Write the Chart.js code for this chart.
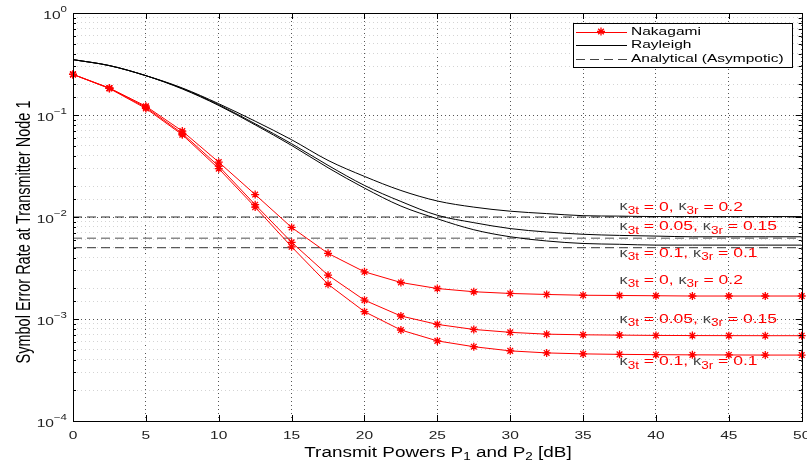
<!DOCTYPE html>
<html>
<head>
<meta charset="utf-8">
<script src="https://cdn.jsdelivr.net/npm/chart.js@4/dist/chart.umd.min.js"></script>
<style>
  html, body { margin: 0; padding: 0; background: #fff; }
  #wrap { width: 807px; height: 460px; }
</style>
</head>
<body>
<div id="wrap"><canvas id="serChart" width="807" height="460"></canvas></div>
<script>
// transmit power P1 = P2 in dB
const powers = [0, 2.5, 5, 7.5, 10, 12.5, 15, 17.5, 20, 22.5, 25, 27.5, 30, 32.5, 35, 37.5, 40, 42.5, 45, 47.5, 50];

// Nakagami (with markers), one per kappa pair
const nakagamiA = [0.25, 0.184, 0.122, 0.0695, 0.0345, 0.0166, 0.0079, 0.0044, 0.0029, 0.00228, 0.00199, 0.00185, 0.00178, 0.00174, 0.00171, 0.0017, 0.00169, 0.00168, 0.00168, 0.00168, 0.00168];
const nakagamiB = [0.25, 0.183, 0.119, 0.066, 0.0315, 0.0132, 0.00565, 0.00269, 0.00153, 0.00107, 0.000885, 0.00079, 0.00074, 0.00071, 0.0007, 0.000695, 0.00069, 0.000688, 0.000687, 0.000686, 0.000686];
const nakagamiC = [0.25, 0.182, 0.116, 0.064, 0.0298, 0.0125, 0.0051, 0.00219, 0.00118, 0.00078, 0.00061, 0.000535, 0.000487, 0.000465, 0.000455, 0.00045, 0.000447, 0.000445, 0.000444, 0.000443, 0.000443];

// Rayleigh (plain black lines)
const rayleighA = [0.349, 0.305, 0.243, 0.184, 0.129, 0.087, 0.0572, 0.0359, 0.025, 0.0182, 0.01435, 0.0125, 0.0114, 0.0108, 0.0103, 0.0102, 0.0101, 0.0101, 0.0101, 0.0101, 0.0101];
const rayleighB = [0.349, 0.305, 0.243, 0.182, 0.126, 0.082, 0.0523, 0.0321, 0.0204, 0.0142, 0.0104, 0.0088, 0.0077, 0.00713, 0.00677, 0.0066, 0.0065, 0.0064, 0.0064, 0.0064, 0.0064];
const rayleighC = [0.349, 0.305, 0.243, 0.18, 0.124, 0.08, 0.0503, 0.0304, 0.0192, 0.0128, 0.0096, 0.0075, 0.0064, 0.00582, 0.0055, 0.0054, 0.0053, 0.0053, 0.0053, 0.0053, 0.0053];

// analytical asymptotes
const asymptotes = [0.01, 0.0062, 0.005];

// kappa annotations
const annoKt = ['0', '0.05', '0.1', '0', '0.05', '0.1'];
const annoKr = ['0.2', '0.15', '0.1', '0.2', '0.15', '0.1'];
const annoX = [37.5, 37.5, 37.5, 37.5, 37.5, 37.5];
const annoY = [0.0125, 0.0080, 0.0044, 0.0024, 0.00099, 0.00038];

const legendNames = ['Nakagami', 'Rayleigh', 'Analytical (Asympotic)'];
const xTicks = [0, 5, 10, 15, 20, 25, 30, 35, 40, 45, 50];
const yDecades = [-4, -3, -2, -1, 0];

const RED = '#ff0000';
const FONT = '"Liberation Sans", Arial, Helvetica, sans-serif';
const SX = 1.35; // the figure is stretched sideways

const toPoints = (ys) => ys.map((y, i) => ({ x: powers[i], y: y }));

const nakagamiSet = (ys) => ({
  data: toPoints(ys),
  borderColor: RED,
  backgroundColor: RED,
  borderWidth: 1,
  pointStyle: 'star',
  pointRadius: 4,
  pointBorderWidth: 1.3,
  pointBorderColor: RED,
  clip: false,
});

const rayleighSet = (ys) => ({
  data: toPoints(ys),
  borderColor: '#000',
  borderWidth: 1,
  pointRadius: 0,
  cubicInterpolationMode: 'monotone',
});

const asymColors = ['#333', '#8a8a8a', '#333'];
const asymWidths = [1, 1.4, 1];
const asymSets = asymptotes.map((v, i) => ({
  data: [{ x: powers[0], y: v }, { x: powers[powers.length - 1], y: v }],
  borderColor: asymColors[i],
  borderWidth: asymWidths[i],
  borderDash: [9, 5],
  pointRadius: 0,
}));

function runsWidth(ctx, runs) {
  let w = 0;
  for (const r of runs) {
    ctx.font = r.size + 'px ' + FONT;
    w += ctx.measureText(r.text).width * SX;
  }
  return w;
}

function drawRuns(ctx, runs, x, y, align) {
  const w = runsWidth(ctx, runs);
  let cx = align === 'center' ? x - w / 2 : align === 'right' ? x - w : x;
  ctx.save();
  ctx.textBaseline = 'middle';
  ctx.textAlign = 'left';
  for (const r of runs) {
    ctx.font = r.size + 'px ' + FONT;
    ctx.fillStyle = r.color;
    ctx.save();
    ctx.translate(cx, y + (r.dy || 0));
    ctx.scale(SX, 1);
    ctx.fillText(r.text, 0, 0);
    ctx.restore();
    cx += ctx.measureText(r.text).width * SX;
  }
  ctx.restore();
}

const matlabAxes = {
  id: 'matlabAxes',
  beforeDraw(chart) {
    const ctx = chart.ctx;
    ctx.save();
    ctx.fillStyle = '#fff';
    ctx.fillRect(0, 0, chart.width, chart.height);
    ctx.restore();
  },
  afterDatasetsDraw(chart) {
    const ctx = chart.ctx;
    const a = chart.chartArea;
    const xs = chart.scales.x;
    const ys = chart.scales.y;
    ctx.save();
    ctx.strokeStyle = '#000';
    ctx.lineWidth = 1;
    ctx.strokeRect(Math.round(a.left) + 0.5, Math.round(a.top) + 0.5, Math.round(a.right - a.left), Math.round(a.bottom - a.top));
    ctx.beginPath();
    xTicks.forEach((t) => {
      const px = Math.round(xs.getPixelForValue(t)) + 0.5;
      ctx.moveTo(px, a.bottom); ctx.lineTo(px, a.bottom - 6);
      ctx.moveTo(px, a.top); ctx.lineTo(px, a.top + 6);
    });
    ys.ticks.forEach((t) => {
      const py = Math.round(ys.getPixelForValue(t.value)) + 0.5;
      const len = t.major ? 6 : 3;
      ctx.moveTo(a.left, py); ctx.lineTo(a.left + len, py);
      ctx.moveTo(a.right, py); ctx.lineTo(a.right - len, py);
    });
    ctx.stroke();
    ctx.restore();
  },
  afterDraw(chart) {
    const ctx = chart.ctx;
    const a = chart.chartArea;
    const xs = chart.scales.x;
    const ys = chart.scales.y;

    // x tick labels
    xTicks.forEach((t) => {
      drawRuns(ctx, [{ text: String(t), size: 11.5, color: '#222' }], xs.getPixelForValue(t), a.bottom + 15, 'center');
    });
    // y tick labels 10^k
    yDecades.forEach((k) => {
      const py = ys.getPixelForValue(Math.pow(10, k));
      drawRuns(ctx, [
        { text: '10', size: 11.5, color: '#222', dy: 3 },
        { text: String(k).replace('-', '\u2212'), size: 8.5, color: '#222', dy: -3 },
      ], 67, py, 'right');
    });

    // x title with subscripts
    drawRuns(ctx, [
      { text: 'Transmit Powers P', size: 14, color: '#000' },
      { text: '1', size: 10, color: '#000', dy: 4 },
      { text: ' and P', size: 14, color: '#000' },
      { text: '2', size: 10, color: '#000', dy: 4 },
      { text: ' [dB]', size: 14, color: '#000' },
    ], 438, 453, 'center');

    // y title, rotated
    ctx.save();
    ctx.translate(25, 232);
    ctx.rotate(-Math.PI / 2);
    ctx.scale(1, SX);
    ctx.font = '14.5px ' + FONT;
    ctx.fillStyle = '#000';
    ctx.textAlign = 'center';
    ctx.textBaseline = 'middle';
    ctx.fillText('Symbol Error Rate at Transmitter Node 1', 0, 0);
    ctx.restore();

    // kappa annotations
    annoKt.forEach((kt, i) => {
      drawRuns(ctx, [
        { text: '\u03ba', size: 12, color: '#444' },
        { text: '3t', size: 10, color: RED, dy: 4 },
        { text: ' = ' + kt + ', ', size: 13, color: RED },
        { text: '\u03ba', size: 12, color: '#444' },
        { text: '3r', size: 10, color: RED, dy: 4 },
        { text: ' = ' + annoKr[i], size: 13, color: RED },
      ], xs.getPixelForValue(annoX[i]), ys.getPixelForValue(annoY[i]), 'left');
    });

    // legend box
    const lx = 573, ly = 23, lw = 219, lh = 44;
    ctx.save();
    ctx.fillStyle = '#fff';
    ctx.fillRect(lx, ly, lw, lh);
    ctx.strokeStyle = '#000';
    ctx.lineWidth = 1;
    ctx.strokeRect(lx + 0.5, ly + 0.5, lw, lh);
    const rows = [31.5, 45, 58.5];
    const styles = [
      { color: RED, dash: [] },
      { color: '#000', dash: [] },
      { color: '#444', dash: [9, 5] },
    ];
    rows.forEach((ry, i) => {
      ctx.save();
      ctx.strokeStyle = styles[i].color;
      ctx.setLineDash(styles[i].dash);
      ctx.beginPath();
      ctx.moveTo(576, Math.round(ry) + 0.5);
      ctx.lineTo(627, Math.round(ry) + 0.5);
      ctx.stroke();
      ctx.restore();
      drawRuns(ctx, [{ text: legendNames[i], size: 11.5, color: '#000' }], 631, ry, 'left');
    });
    ctx.restore();
    // star marker in the Nakagami sample
    ctx.save();
    ctx.strokeStyle = RED;
    ctx.lineWidth = 1.3;
    Chart.helpers.drawPoint(ctx, { pointStyle: 'star', radius: 4, borderWidth: 1.3 }, 601, 31.5);
    ctx.restore();
  },
};

new Chart(document.getElementById('serChart'), {
  type: 'line',
  data: {
    datasets: [
      nakagamiSet(nakagamiA),
      nakagamiSet(nakagamiB),
      nakagamiSet(nakagamiC),
      rayleighSet(rayleighA),
      rayleighSet(rayleighB),
      rayleighSet(rayleighC),
      ...asymSets,
    ],
  },
  options: {
    responsive: false,
    animation: false,
    layout: { padding: { top: 13, right: 5, left: 0, bottom: 0 } },
    plugins: { legend: { display: false }, tooltip: { enabled: false } },
    scales: {
      x: {
        type: 'linear',
        min: 0,
        max: 50,
        ticks: { display: false, stepSize: 5 },
        grid: { color: '#555', drawTicks: false },
        border: { display: false, dash: [1, 3] },
        afterFit: (s) => { s.height = 39; },
      },
      y: {
        type: 'logarithmic',
        min: 1e-4,
        max: 1,
        ticks: { display: false },
        grid: {
          drawTicks: false,
          color: (c) => (c.tick && c.tick.major ? '#555' : '#d4d4d4'),
        },
        border: { display: false, dash: [1, 3] },
        afterFit: (s) => { s.width = 73; },
      },
    },
  },
  plugins: [matlabAxes],
});
</script>
</body>
</html>
